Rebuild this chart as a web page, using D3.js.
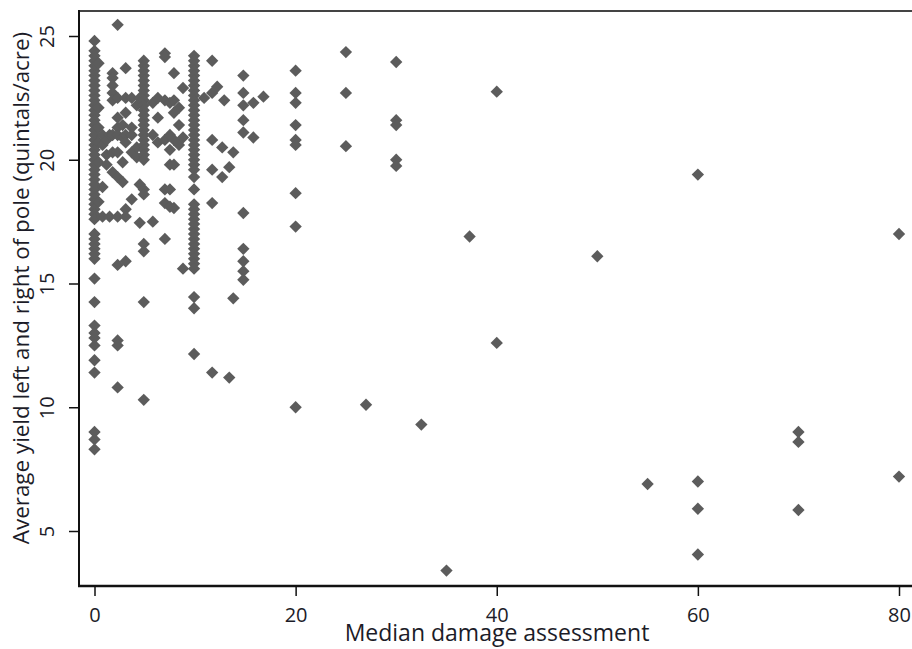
<!DOCTYPE html>
<html>
<head>
<meta charset="utf-8">
<script src="https://cdn.jsdelivr.net/npm/d3@7"></script>
<style>
  body { margin: 0; background: #fff; }
  svg { display: block; }
</style>
</head>
<body>
<div id="chart"></div>
<script>
// Yield vs. median damage assessment, scatter (diamonds)

const xTicks = [0, 20, 40, 60, 80];
const yTicks = [5, 10, 15, 20, 25];

const damageLevels = [
    0, 0.4, 0.8, 1.2, 1.5, 1.8, 2.3, 2.8, 3.1, 3.7, 4.2, 4.5, 4.9, 5.8, 6.3, 7,
    7.5, 7.9, 8.4, 8.8, 9.9, 10.9, 11.7, 12.2, 12.7, 12.9, 13.4, 13.8, 14.8,
    15.8, 16.8, 20, 25, 27, 30, 32.5, 35, 37.3, 40, 50, 55, 60, 70, 80
];

const yieldsAt0 = [
    24.8, 24.4, 24.2, 24.0, 23.8, 23.6, 23.4, 23.2, 23.0, 22.8, 22.6, 22.4,
    22.2, 22.0, 21.8, 21.6, 21.4, 21.2, 21.0, 20.8, 20.6, 20.4, 20.2, 20.0,
    19.8, 19.6, 19.4, 19.2, 19.0, 18.8, 18.6, 18.4, 18.2, 18.0, 17.8, 17.6,
    17.0, 16.8, 16.6, 16.4, 16.2, 16.0, 15.2, 14.25, 13.3, 13.0, 12.8, 12.5,
    11.9, 11.4, 9.0, 8.7, 8.3
];
const yieldsAt5 = [
    24.0, 23.8, 23.6, 23.4, 23.2, 23.0, 22.8, 22.6, 22.4, 22.2, 22.0, 21.8,
    21.6, 21.4, 21.2, 21.0, 20.8, 20.6, 20.4, 20.2, 20.0, 18.8, 18.6, 16.6,
    16.3, 14.25, 10.3
];
const yieldsAt10 = [
    24.2, 24.0, 23.8, 23.6, 23.4, 23.2, 23.0, 22.8, 22.6, 22.4, 22.2, 22.0,
    21.8, 21.6, 21.4, 21.2, 21.0, 20.8, 20.6, 20.4, 20.2, 20.0, 19.8, 19.6,
    19.3, 18.8, 18.2, 18.0, 17.8, 17.6, 17.4, 17.2, 17.0, 16.8, 16.6, 16.4,
    16.2, 16.0, 15.8, 15.6, 14.45, 14.0, 12.15
];

const yieldsByLevel = [
    yieldsAt0,
    [23.9, 22.1, 21.3, 20.7, 19.9, 18.3],
    [21.0, 20.6, 18.9, 17.7],
    [20.8, 20.2, 19.8],
    [21.0, 17.7],
    [23.5, 23.3, 23.0, 22.7, 22.4, 21.0, 20.3, 19.5],
    [25.45, 22.5, 21.7, 21.3, 21.0, 20.3, 19.3, 17.7, 15.75, 12.7, 12.5, 10.8],
    [21.4, 20.9, 19.9, 19.1],
    [23.7, 22.5, 21.9, 21.0, 20.7, 18.0, 17.7, 15.9],
    [22.5, 21.3, 21.0, 20.3, 18.4],
    [22.2, 20.5, 20.1],
    [22.5, 19.0, 17.45],
    yieldsAt5,
    [22.3, 21.0, 17.5],
    [22.5, 21.7, 20.7],
    [24.3, 24.15, 22.4, 20.8, 18.8, 18.25, 16.8],
    [22.3, 21.0, 20.4, 19.8, 18.8, 18.1],
    [23.5, 22.4, 21.9, 20.8, 19.8, 18.05],
    [22.1, 21.4, 20.6],
    [22.9, 20.9, 15.6],
    yieldsAt10,
    [22.5],
    [24.0, 22.7, 20.8, 19.6, 18.25, 11.4],
    [22.95],
    [20.5, 19.3],
    [22.4],
    [19.7, 11.2],
    [20.3, 14.4],
    [23.4, 22.7, 22.2, 21.6, 21.1, 17.85, 16.4, 15.9, 15.5, 15.15],
    [22.3, 20.9],
    [22.55],
    [23.6, 22.7, 22.3, 21.4, 20.8, 20.6, 18.65, 17.3, 10.0],
    [24.35, 22.7, 20.55],
    [10.1],
    [23.95, 21.6, 21.4, 20.0, 19.75],
    [9.3],
    [3.4],
    [16.9],
    [22.75, 12.6],
    [16.1],
    [6.9],
    [19.4, 7.0, 5.9, 4.05],
    [9.0, 8.6, 5.85],
    [17.0, 7.2]
];

const points = [];
damageLevels.forEach((d, i) => {
    yieldsByLevel[i].forEach(v => points.push({ x: d, y: v }));
});

const width = 912;
const height = 649;
const frame = { left: 79, top: 11, right: 912, bottom: 586 };
const FONT = '"Open Sans", sans-serif';
const TEXT_COLOR = '#1c1c28';

const svg = d3.select('#chart')
    .append('svg')
    .attr('width', width)
    .attr('height', height);

const x = d3.scaleLinear().domain([0, 80]).range([94.5, 899]);
const y = d3.scaleLinear().domain([5, 25]).range([531, 36]);

// Markers
const diamond = d3.symbol(d3.symbolSquare, 76);
svg.append('g')
    .selectAll('path')
    .data(points)
    .join('path')
    .attr('d', diamond)
    .attr('transform', d => `translate(${x(d.x)},${y(d.y)}) rotate(45)`)
    .attr('fill', '#5c5c5c');

// Frame: top border, left and bottom axis lines
svg.append('line')
    .attr('x1', frame.left).attr('x2', frame.right)
    .attr('y1', frame.top).attr('y2', frame.top)
    .attr('stroke', '#444').attr('stroke-width', 2);

svg.append('line')
    .attr('x1', frame.left).attr('x2', frame.left)
    .attr('y1', frame.top - 1).attr('y2', frame.bottom + 1)
    .attr('stroke', '#111').attr('stroke-width', 2);

svg.append('line')
    .attr('x1', frame.left - 1).attr('x2', frame.right)
    .attr('y1', frame.bottom).attr('y2', frame.bottom)
    .attr('stroke', '#111').attr('stroke-width', 2.5);

// X axis
const xAxis = svg.append('g')
    .attr('transform', `translate(0,${frame.bottom})`)
    .call(d3.axisBottom(x).tickValues(xTicks).tickSize(10).tickSizeOuter(0));
xAxis.select('.domain').remove();
xAxis.selectAll('line').attr('stroke', '#111').attr('stroke-width', 1.5);
xAxis.selectAll('text')
    .attr('y', 36).attr('dy', 0)
    .attr('fill', TEXT_COLOR)
    .style('font-family', FONT).style('font-size', '20px');

// Y axis
const yAxis = svg.append('g')
    .attr('transform', `translate(${frame.left},0)`)
    .call(d3.axisLeft(y).tickValues(yTicks).tickSize(10).tickSizeOuter(0));
yAxis.select('.domain').remove();
yAxis.selectAll('line').attr('stroke', '#111').attr('stroke-width', 1.5);
yAxis.selectAll('text')
    .attr('transform', 'rotate(-90)')
    .attr('x', 0).attr('y', -25).attr('dy', 0)
    .attr('text-anchor', 'middle')
    .attr('fill', TEXT_COLOR)
    .style('font-family', FONT).style('font-size', '20px');

// Axis titles
svg.append('text')
    .attr('x', 497).attr('y', 641)
    .attr('text-anchor', 'middle')
    .attr('fill', TEXT_COLOR)
    .style('font-family', FONT).style('font-size', '23px')
    .text('Median damage assessment');

svg.append('text')
    .attr('transform', 'translate(29,288) rotate(-90)')
    .attr('text-anchor', 'middle')
    .attr('fill', TEXT_COLOR)
    .style('font-family', FONT).style('font-size', '22.4px')
    .text('Average yield left and right of pole (quintals/acre)');
</script>
</body>
</html>
